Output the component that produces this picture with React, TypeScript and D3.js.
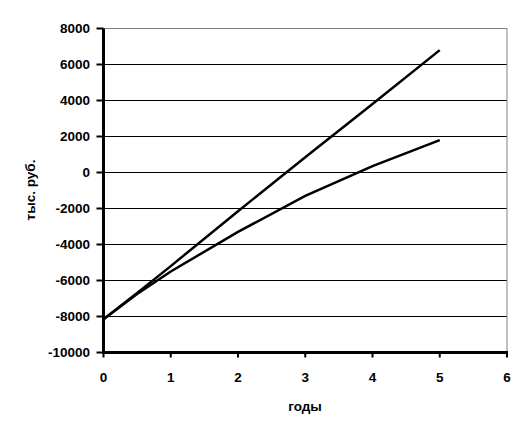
import React from 'react';
import * as d3 from 'd3';

const years = [0, 0.5, 1, 2, 3, 4, 5];
const seriesA = [-8150, -6700, -5200, -2150, 850, 3800, 6800];
const seriesB = [-8150, -6750, -5500, -3300, -1300, 350, 1800];
const xTicks = [0, 1, 2, 3, 4, 5, 6];
const yTicks = [-10000, -8000, -6000, -4000, -2000, 0, 2000, 4000, 6000, 8000];

const W = 529;
const H = 434;
const font = '"Liberation Sans", Arial, sans-serif';

export default function App() {
  const x = d3.scaleLinear().domain([0, 6]).range([103.5, 507]);
  const y = d3.scaleLinear().domain([-10000, 8000]).range([352.5, 28.5]);

  const line = d3
    .line<number>()
    .x((_, i) => x(years[i]))
    .y((d) => y(d));

  return (
    <svg width={W} height={H} style={{ position: 'absolute', left: 0, top: 0, background: '#fff' }}>
      {/* gridlines */}
      {yTicks
        .filter((t) => t > -10000 && t < 8000)
        .map((t) => (
          <line key={t} x1={x(0)} x2={x(6)} y1={y(t)} y2={y(t)} stroke="#000" strokeWidth={1} />
        ))}
      {/* gray frame top/right */}
      <line x1={x(0)} x2={x(6)} y1={y(8000)} y2={y(8000)} stroke="#808080" strokeWidth={1} />
      <line x1={x(6)} x2={x(6)} y1={y(8000)} y2={y(-10000)} stroke="#808080" strokeWidth={1} />

      {/* series */}
      <path d={line(seriesA) || ''} fill="none" stroke="#000" strokeWidth={2.5} />
      <path d={line(seriesB) || ''} fill="none" stroke="#000" strokeWidth={2.5} />

      {/* y axis */}
      <line x1={x(0)} x2={x(0)} y1={y(8000)} y2={y(-10000) + 1.5} stroke="#000" strokeWidth={3} />
      {yTicks.map((t) => (
        <g key={t}>
          <line x1={96.5} x2={x(0)} y1={y(t)} y2={y(t)} stroke="#000" strokeWidth={2} />
          <text
            x={90}
            y={y(t)}
            dy="0.36em"
            textAnchor="end"
            fontFamily={font}
            fontWeight="bold"
            fontSize={13.5}
          >
            {t}
          </text>
        </g>
      ))}

      {/* x axis */}
      <line x1={x(0) - 1.5} x2={x(6) + 1} y1={y(-10000)} y2={y(-10000)} stroke="#000" strokeWidth={3} />
      {xTicks.map((t) => (
        <g key={t}>
          <line x1={x(t)} x2={x(t)} y1={y(-10000)} y2={y(-10000) + 5} stroke="#000" strokeWidth={2} />
          <text
            x={x(t)}
            y={382}
            textAnchor="middle"
            fontFamily={font}
            fontWeight="bold"
            fontSize={13.5}
          >
            {t}
          </text>
        </g>
      ))}

      {/* axis titles */}
      <text x={305} y={411} textAnchor="middle" fontFamily={font} fontWeight="bold" fontSize={13.5}>
        годы
      </text>
      <text
        transform={`translate(35,${190}) rotate(-90)`}
        textAnchor="middle"
        fontFamily={font}
        fontWeight="bold"
        fontSize={13.5}
      >
        тыс. руб.
      </text>
    </svg>
  );
}
